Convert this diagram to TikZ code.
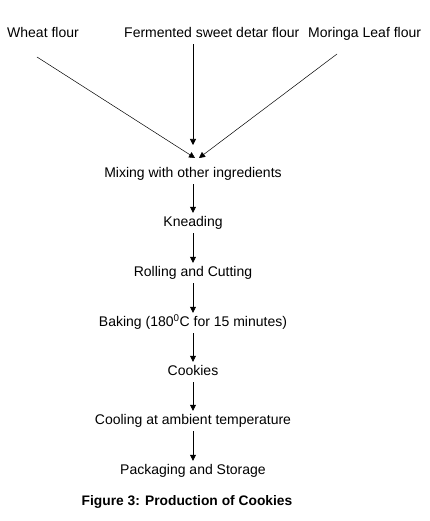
\documentclass[tikz,border=0pt]{standalone}
\usepackage{fontspec}
\setmainfont{Liberation Sans}
\usetikzlibrary{arrows.meta,calc}
\begin{document}
\begin{tikzpicture}[x=1pt,y=-1pt,
  lbl/.style={font=\fontsize{14}{16}\selectfont, inner xsep=0pt, inner ysep=4pt, text height=9.5pt, text depth=2.5pt},
  arr/.style={-{Triangle[length=6pt,width=6pt]}, line width=0.7pt},
  thin/.style={-{Triangle[length=6pt,width=6pt]}, line width=0.5pt}]
\useasboundingbox (0,0) rectangle (430,521);
\node[lbl, anchor=west] (wheat) at (7,34) {Wheat flour};
\node[lbl, anchor=west] (ferm) at (124,34) {Fermented sweet detar flour};
\node[lbl, anchor=west] (mor) at (308,34) {Moringa Leaf flour};
\node[lbl] (mix) at (193,174) {Mixing with other ingredients};
\node[lbl] (knead) at (193,223) {Kneading};
\node[lbl] (roll) at (193,273) {Rolling and Cutting};
\node[lbl] (bake) at (193,323) {Baking (180\textsuperscript{0}C for 15 minutes)};
\node[lbl] (cook) at (193,372) {Cookies};
\node[lbl] (cool) at (193,421) {Cooling at ambient temperature};
\node[lbl] (pack) at (193,471) {Packaging and Storage};
\node[font=\bfseries\fontsize{13.8}{16}\selectfont, inner sep=0pt] (cap) at (187,502) {Figure 3: Production of Cookies};
\coordinate (ws) at (37,57);
\coordinate (ms) at (337,54);
\coordinate (wt) at (195,158);
\coordinate (mt) at (199,158);
\coordinate (ft) at (193,145);
\draw[thin] (ws) -- (wt);
\draw[thin] (ms) -- (mt);
\draw[arr] (ferm.south -| ft) -- (ft);
\draw[arr] (mix) -- (knead);
\draw[arr] (knead) -- (roll);
\draw[arr] (roll) -- (bake);
\draw[arr] (bake) -- (cook);
\draw[arr] (cook) -- (cool);
\draw[arr] (cool) -- (pack);
\end{tikzpicture}
\end{document}
